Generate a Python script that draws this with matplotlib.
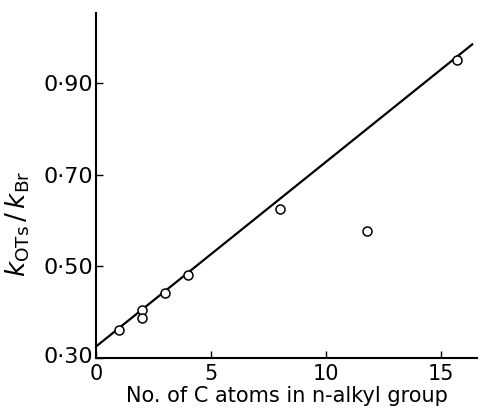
import matplotlib
matplotlib.use("Agg")
import matplotlib.pyplot as plt
from matplotlib.transforms import ScaledTranslation

# data
carbons = [1, 2, 2, 3, 4, 8, 11.8, 15.7]
ratio = [0.361, 0.405, 0.388, 0.441, 0.481, 0.625, 0.577, 0.951]
fit_x = [0, 16.4]
fit_y = [0.325, 0.986]
xticks = [0, 5, 10, 15]
xtick_labels = ["0", "5", "10", "15"]
yticks = [0.30, 0.50, 0.70, 0.90]
ytick_labels = ["0·30", "0·50", "0·70", "0·90"]

fig = plt.figure(figsize=(4.87, 4.08), dpi=100)
ax = fig.add_axes([96/487, 1 - 358/408, (477-96)/487, (358-13)/408])

ax.plot(fit_x, fit_y, color="black", lw=1.6, solid_capstyle="butt", zorder=2)
ax.plot(carbons, ratio, linestyle="none", marker="o", markersize=6.5,
        markerfacecolor="white", markeredgecolor="black", markeredgewidth=1.1, zorder=3)

ax.set_xlim(0, 16.57)
ax.set_ylim(0.30, 1.053)

for s in ["top", "right"]:
    ax.spines[s].set_visible(False)
for s in ["left", "bottom"]:
    ax.spines[s].set_linewidth(1.5)

ax.set_xticks(xticks)
ax.set_xticklabels(xtick_labels)
ax.set_yticks(yticks)
ax.set_yticklabels(ytick_labels)
ax.tick_params(axis="both", direction="in", length=5, width=1.0, colors="black")
ax.tick_params(axis="x", labelsize=15, pad=4)
ax.tick_params(axis="y", labelsize=16, pad=2)
# nudge the lowest y label up slightly, as in the reference
lbl = ax.get_yticklabels()[0]
lbl.set_transform(lbl.get_transform() + ScaledTranslation(0, 2/72, fig.dpi_scale_trans))

ax.set_xlabel("No. of C atoms in n-alkyl group", fontsize=15, labelpad=2)
ax.set_ylabel(r"$k_{\mathrm{OTs}}\,/\,k_{\mathrm{Br}}$", fontsize=19)
ax.yaxis.set_label_coords(-0.168, 0.39)

fig.savefig("out.png", dpi=100)
